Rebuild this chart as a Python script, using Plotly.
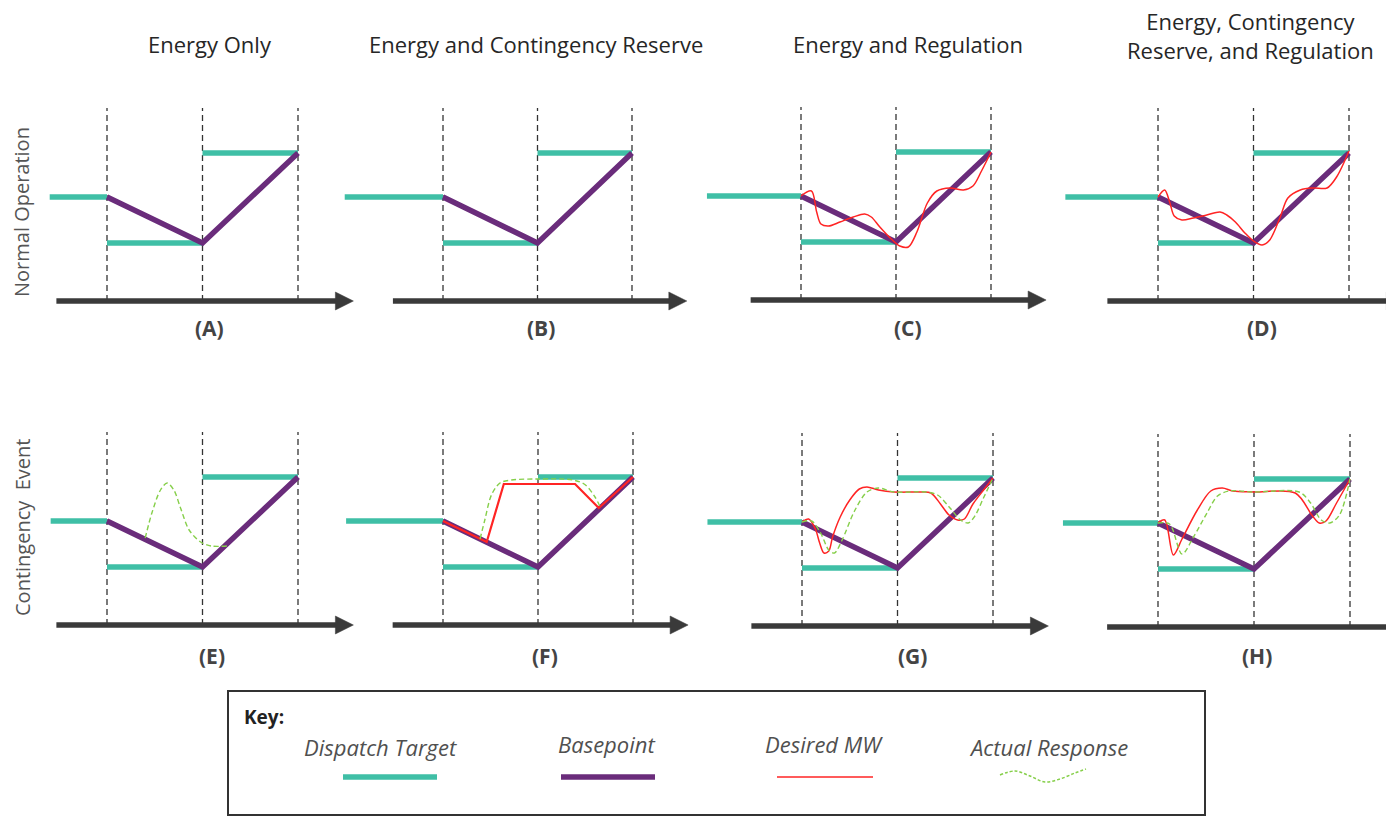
import plotly.graph_objects as go

FIG_W, FIG_H = 1386, 817

# ---------------- data (time in dispatch intervals, output in relative MW) ----------------
PANELS = ["A", "B", "C", "D", "E", "F", "G", "H"]
COLUMN_TITLES = ["Energy Only", "Energy and Contingency Reserve", "Energy and Regulation",
                 "Energy, Contingency<br>Reserve, and Regulation"]
ROW_TITLES = ["Normal Operation", "Contingency  Event"]
KEY_LABELS = ["Dispatch Target", "Basepoint", "Desired MW", "Actual Response"]

INTERVAL_BOUNDS = [0, 1, 2]
DISPATCH_LEVELS = [104, 58, 148]          # prior interval, interval 1, interval 2
BASEPOINT_T = [0, 1, 2]
BASEPOINT_MW = [104, 58, 148]
DASH_TOP = 193
PRIOR_START = {"A": -0.60, "B": -1.04, "C": -0.99, "D": -0.97,
               "E": -0.59, "F": -1.02, "G": -0.99, "H": -0.99}
TIME_AXIS_START = -0.53
TIME_AXIS_END = 2.58

C_DESIRED_T = [0, 0.11, 0.165, 0.21, 0.29, 0.41, 0.55, 0.67, 0.74, 0.83, 0.95, 1.04, 1.13,
               1.22, 1.33, 1.43, 1.57, 1.71, 1.81, 1.90, 2.0]
C_DESIRED_MW = [104, 109, 88, 76, 74, 78, 83, 86, 83, 73, 61, 54, 53,
                68, 97, 109, 112, 110, 114, 129, 148]

D_DESIRED_T = [0, 0.07, 0.125, 0.17, 0.25, 0.37, 0.51, 0.65, 0.72, 0.81, 0.91, 1.0, 1.09,
               1.17, 1.28, 1.36, 1.49, 1.63, 1.77, 1.87, 2.0]
D_DESIRED_MW = [104, 111, 98, 85, 81, 83, 86, 89, 86, 79, 68, 60, 56,
                61, 84, 103, 111, 113, 113, 124, 150]

E_ACTUAL_T = [0.40, 0.47, 0.56, 0.63, 0.70, 0.77, 0.86, 0.98, 1.09, 1.26]
E_ACTUAL_MW = [87, 112, 135, 142, 135, 117, 95, 83, 79, 79]

F_DESIRED_T = [0, 0.46, 0.64, 1.39, 1.64, 2.0]
F_DESIRED_MW = [104, 83, 141, 141, 117, 148]
F_ACTUAL_T = [0.39, 0.44, 0.51, 0.60, 0.72, 1.0, 1.37, 1.50, 1.60, 1.66]
F_ACTUAL_MW = [86, 105, 130, 142, 145, 146, 145, 140, 128, 117]

G_DESIRED_T = [0, 0.07, 0.14, 0.185, 0.23, 0.28, 0.32, 0.40, 0.50, 0.60, 0.68, 0.80, 0.96,
               1.24, 1.35, 1.45, 1.54, 1.63, 1.70, 1.79, 1.91, 2.0]
G_DESIRED_MW = [104, 107, 97, 83, 73, 75, 89, 109, 126, 137, 139, 136, 134,
                134, 133, 122, 111, 106, 107, 122, 137, 148]
G_ACTUAL_T = [0, 0.10, 0.20, 0.28, 0.34, 0.42, 0.55, 0.68, 0.80, 0.96, 1.30, 1.42, 1.55,
              1.66, 1.74, 1.81, 1.90, 2.0]
G_ACTUAL_MW = [104, 105, 92, 76, 73, 86, 115, 134, 138, 134, 134, 131, 118,
               106, 103, 110, 128, 148]

H_DESIRED_T = [0, 0.07, 0.16, 0.25, 0.41, 0.55, 0.67, 0.78, 1.0, 1.43, 1.61, 1.68, 1.75, 1.86, 2.0]
H_DESIRED_MW = [104, 107, 72, 88, 117, 136, 139, 136, 135, 134, 111, 104, 106, 124, 148]
H_ACTUAL_T = [0, 0.12, 0.25, 0.37, 0.51, 0.62, 0.74, 1.0, 1.47, 1.59, 1.70, 1.79, 1.89, 2.0]
H_ACTUAL_MW = [104, 103, 73, 90, 114, 131, 136, 135, 135, 124, 107, 104, 112, 148]

DESIRED = {"C": (C_DESIRED_T, C_DESIRED_MW), "D": (D_DESIRED_T, D_DESIRED_MW),
           "F": (F_DESIRED_T, F_DESIRED_MW), "G": (G_DESIRED_T, G_DESIRED_MW),
           "H": (H_DESIRED_T, H_DESIRED_MW)}
ACTUAL = {"E": (E_ACTUAL_T, E_ACTUAL_MW), "F": (F_ACTUAL_T, F_ACTUAL_MW),
          "G": (G_ACTUAL_T, G_ACTUAL_MW), "H": (H_ACTUAL_T, H_ACTUAL_MW)}

# ---------------- layout geometry (pixels) ----------------
# pixel x of t=0, pixels per interval, pixel y of the time axis
GEOM = {"A": (107, 95.5, 301), "B": (443, 94.5, 301), "C": (801, 95, 300), "D": (1158, 95.5, 301),
        "E": (107, 95.5, 625), "F": (443, 95, 625), "G": (802, 95.5, 626), "H": (1158, 96, 627)}
LABEL_POS = {"A": (209, 328), "B": (541, 328), "C": (908, 328), "D": (1262, 328),
             "E": (212, 656), "F": (545, 656), "G": (912, 656), "H": (1257, 656)}
TITLE_POS = [(210, 44), (536, 44), (908, 44), (1250, 35)]

TEAL = "#3fbfa6"
PURPLE = "#6a2c7b"
RED = "#ff2424"
GREEN = "#86cf4a"
AXIS_COL = "#3a3a3a"
FONT = "Open Sans"


def px(x):
    return x / FIG_W


def py(y):
    return 1 - y / FIG_H


fig = go.Figure()
layout = {}

for i, p in enumerate(PANELS):
    n = i + 1
    X0, W, AY = GEOM[p]
    xa = "x" if n == 1 else f"x{n}"
    ya = "y" if n == 1 else f"y{n}"
    left = max(0.0, X0 - 1.15 * W)
    right = min(FIG_W, X0 + 2.75 * W)
    top = AY - 205
    bottom = AY + 15
    layout["xaxis" if n == 1 else f"xaxis{n}"] = dict(
        domain=[px(left), px(right)], range=[(left - X0) / W, (right - X0) / W],
        visible=False, anchor=ya, fixedrange=True)
    layout["yaxis" if n == 1 else f"yaxis{n}"] = dict(
        domain=[py(bottom), py(top)], range=[-15, 205],
        visible=False, anchor=xa, fixedrange=True)

    # dashed interval boundaries
    dx, dy = [], []
    for b in INTERVAL_BOUNDS:
        dx += [b, b, None]
        dy += [0, DASH_TOP, None]
    fig.add_trace(go.Scatter(x=dx, y=dy, mode="lines", xaxis=xa, yaxis=ya,
                             line=dict(color="#333333", width=1.3, dash="6px,4px"),
                             hoverinfo="skip", showlegend=False))
    # time axis with arrowhead
    head_len = 18 / W
    fig.add_trace(go.Scatter(x=[TIME_AXIS_START, TIME_AXIS_END - head_len * 0.8], y=[0, 0],
                             mode="lines", xaxis=xa, yaxis=ya,
                             line=dict(color=AXIS_COL, width=5.5),
                             hoverinfo="skip", showlegend=False))
    fig.add_trace(go.Scatter(x=[TIME_AXIS_END - head_len, TIME_AXIS_END, TIME_AXIS_END - head_len,
                                TIME_AXIS_END - head_len],
                             y=[9, 0, -9, 9], mode="lines", fill="toself", fillcolor=AXIS_COL,
                             xaxis=xa, yaxis=ya, line=dict(color=AXIS_COL, width=0.5),
                             hoverinfo="skip", showlegend=False))
    # dispatch targets
    tx = [PRIOR_START[p], INTERVAL_BOUNDS[0], None,
          INTERVAL_BOUNDS[0], INTERVAL_BOUNDS[1], None,
          INTERVAL_BOUNDS[1], INTERVAL_BOUNDS[2]]
    ty = [DISPATCH_LEVELS[0], DISPATCH_LEVELS[0], None,
          DISPATCH_LEVELS[1], DISPATCH_LEVELS[1], None,
          DISPATCH_LEVELS[2], DISPATCH_LEVELS[2]]
    fig.add_trace(go.Scatter(x=tx, y=ty, mode="lines", xaxis=xa, yaxis=ya,
                             line=dict(color=TEAL, width=5.5),
                             hoverinfo="skip", showlegend=False))
    # basepoint
    fig.add_trace(go.Scatter(x=BASEPOINT_T, y=BASEPOINT_MW, mode="lines", xaxis=xa, yaxis=ya,
                             line=dict(color=PURPLE, width=5.5),
                             hoverinfo="skip", showlegend=False))
    if p in DESIRED:
        t, v = DESIRED[p]
        shape = "linear" if p == "F" else "spline"
        fig.add_trace(go.Scatter(x=t, y=v, mode="lines", xaxis=xa, yaxis=ya,
                                 line=dict(color=RED, width=2.2 if p == "F" else 1.5,
                                           shape=shape, smoothing=0.9),
                                 hoverinfo="skip", showlegend=False))
    if p in ACTUAL:
        t, v = ACTUAL[p]
        fig.add_trace(go.Scatter(x=t, y=v, mode="lines", xaxis=xa, yaxis=ya,
                                 line=dict(color=GREEN, width=1.4, dash="5px,3px",
                                           shape="spline", smoothing=0.9),
                                 hoverinfo="skip", showlegend=False))

# ---------------- key overlay (pixel space) ----------------
layout["xaxis9"] = dict(domain=[0, 1], range=[0, FIG_W], visible=False, anchor="y9", fixedrange=True)
layout["yaxis9"] = dict(domain=[0, 1], range=[FIG_H, 0], visible=False, anchor="x9", fixedrange=True)
KEY_TEXT_POS = [(380, 747), (606, 744), (824, 744), (1048, 747)]
KEY_SAMPLE_X = [(343, 437), (561, 655), (777, 873)]
KEY_SAMPLE_Y = 777
for (x1, x2), col, w in zip(KEY_SAMPLE_X, [TEAL, PURPLE, RED], [5.5, 5.5, 1.6]):
    fig.add_trace(go.Scatter(x=[x1, x2], y=[KEY_SAMPLE_Y, KEY_SAMPLE_Y], mode="lines",
                             xaxis="x9", yaxis="y9", line=dict(color=col, width=w),
                             hoverinfo="skip", showlegend=False))
fig.add_trace(go.Scatter(x=[1000, 1015, 1030, 1045, 1060, 1075, 1086],
                         y=[775, 771, 776, 782, 779, 773, 769], mode="lines",
                         xaxis="x9", yaxis="y9",
                         line=dict(color=GREEN, width=1.5, dash="3px,2px", shape="spline"),
                         hoverinfo="skip", showlegend=False))

annotations = []
for (x, y), txt in zip(TITLE_POS, COLUMN_TITLES):
    annotations.append(dict(x=px(x), y=py(y), xref="paper", yref="paper", text=txt,
                            showarrow=False, xanchor="center", yanchor="middle",
                            font=dict(family=FONT, size=22, color="#262626")))
for (y, txt) in zip([212, 528], ROW_TITLES):
    annotations.append(dict(x=px(22), y=py(y), xref="paper", yref="paper", text=txt,
                            showarrow=False, textangle=-90, xanchor="center", yanchor="middle",
                            font=dict(family=FONT, size=20, color="#555555")))
for p in PANELS:
    x, y = LABEL_POS[p]
    annotations.append(dict(x=px(x), y=py(y), xref="paper", yref="paper", text=f"<b>({p})</b>",
                            showarrow=False, xanchor="center", yanchor="middle",
                            font=dict(family=FONT, size=21, color="#444444")))
annotations.append(dict(x=px(242), y=py(717), xref="paper", yref="paper", text="<b>Key:</b>",
                        showarrow=False, xanchor="left", yanchor="middle",
                        font=dict(family=FONT, size=19, color="#222222")))
for (x, y), txt in zip(KEY_TEXT_POS, KEY_LABELS):
    annotations.append(dict(x=px(x), y=py(y), xref="paper", yref="paper", text=f"<i>{txt}</i>",
                            showarrow=False, xanchor="center", yanchor="middle",
                            font=dict(family=FONT, size=22, color="#505050")))

shapes = [dict(type="rect", xref="paper", yref="paper", x0=px(228), x1=px(1205),
               y0=py(815), y1=py(691), line=dict(color="#333333", width=2), fillcolor="rgba(0,0,0,0)")]

fig.update_layout(width=FIG_W, height=FIG_H, margin=dict(l=0, r=0, t=0, b=0),
                  paper_bgcolor="white", plot_bgcolor="rgba(0,0,0,0)",
                  annotations=annotations, shapes=shapes, showlegend=False, **layout)

fig.write_html("out.html", config={"displayModeBar": False},
               post_script="document.body.style.margin='0';document.body.style.overflow='hidden';")
